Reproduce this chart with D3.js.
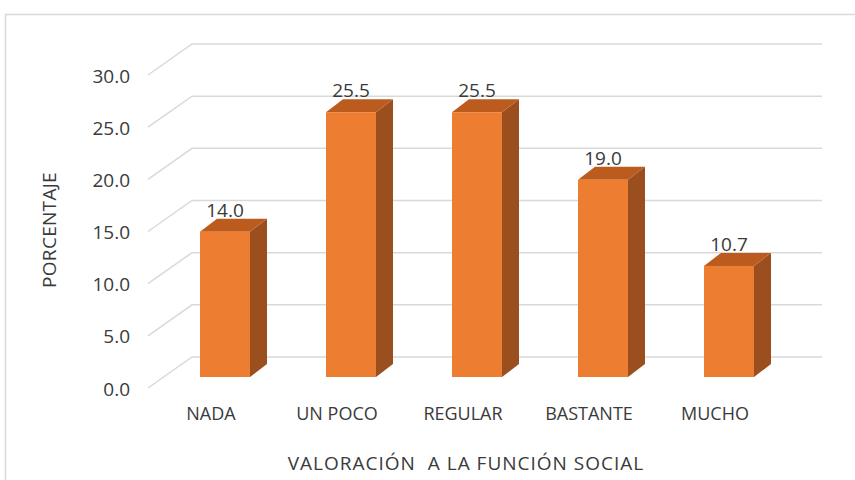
<!DOCTYPE html>
<html>
<head>
<meta charset="utf-8">
<script src="https://cdn.jsdelivr.net/npm/d3@7"></script>
<style>
    body { margin: 0; background: #fff; }
    text { font-family: 'Open Sans', sans-serif; fill: #3a3a3a; }
</style>
</head>
<body>
<div id="chart"></div>
<script>
const categories = ['NADA', 'UN POCO', 'REGULAR', 'BASTANTE', 'MUCHO'];
const values = [14.0, 25.5, 25.5, 19.0, 10.7];
const yTicks = [0, 5, 10, 15, 20, 25, 30];

const width = 855, height = 480;
// 3d offsets: back wall -> front edge of floor, and bar depth
const front = {dx: -44, dy: 31};
const depth = {dx: 17, dy: -13};
const barW = 50;

const svg = d3.select('#chart').append('svg')
    .attr('width', width)
    .attr('height', height);

// chart area border
svg.append('rect')
    .attr('x', 5.5).attr('y', 14.5)
    .attr('width', 900).attr('height', 500)
    .attr('fill', 'none')
    .attr('stroke', '#d9d9d9')
    .attr('stroke-width', 1.5);

const x = d3.scaleBand()
    .domain(categories)
    .range([192, 822]);

// back wall scale
const y = d3.scaleLinear()
    .domain([0, 30])
    .range([357, 44]);

// scale at the bars' front face
const yBar = d3.scaleLinear()
    .domain([0, 30])
    .range([377, 65.5]);

// gridlines: diagonal on the side wall + line along back wall
const grid = svg.append('g').attr('class', 'grid');
grid.selectAll('path')
    .data(yTicks)
    .enter()
    .append('path')
    .attr('d', d => `M${x.range()[0] + front.dx},${y(d) + front.dy}L${x.range()[0]},${y(d)}H${x.range()[1]}`)
    .attr('fill', 'none')
    .attr('stroke', '#d9d9d9')
    .attr('stroke-width', 1.5);

// tick labels
svg.append('g').selectAll('text')
    .data(yTicks)
    .enter()
    .append('text')
    .text(d => d.toFixed(1))
    .attr('x', 130)
    .attr('y', d => y(d) + front.dy + 1)
    .attr('dy', '0.35em')
    .attr('text-anchor', 'end')
    .attr('font-size', 19);

const data = categories.map((c, i) => ({cat: c, val: values[i]}));
const left = d => x(d.cat) + x.bandwidth() / 2 - 55;
const right = d => left(d) + barW;

const bars = svg.append('g').selectAll('g')
    .data(data)
    .enter()
    .append('g');

// side face
bars.append('path')
    .attr('d', d => {
        const t = yBar(d.val), b = yBar(0), r = right(d);
        return `M${r},${t}L${r + depth.dx},${t + depth.dy}L${r + depth.dx},${b + depth.dy}L${r},${b}Z`;
    })
    .attr('fill', '#9c4f1e');

// top face
bars.append('path')
    .attr('d', d => {
        const t = yBar(d.val), l = left(d), r = right(d);
        return `M${l},${t}L${l + depth.dx},${t + depth.dy}L${r + depth.dx},${t + depth.dy}L${r},${t}Z`;
    })
    .attr('fill', '#bb5b1d');

// front face
bars.append('rect')
    .attr('x', left)
    .attr('y', d => yBar(d.val))
    .attr('width', barW)
    .attr('height', d => yBar(0) - yBar(d.val))
    .attr('fill', '#ed7d31');

// data labels
bars.append('text')
    .text(d => d.val.toFixed(1))
    .attr('x', d => left(d) + barW / 2)
    .attr('y', d => yBar(d.val) - 15)
    .attr('text-anchor', 'middle')
    .attr('font-size', 19);

// category labels
svg.append('g').selectAll('text')
    .data(categories)
    .enter()
    .append('text')
    .text(d => d)
    .attr('x', d => x(d) + x.bandwidth() / 2 + front.dx)
    .attr('y', 420)
    .attr('text-anchor', 'middle')
    .attr('font-size', 18);

// axis titles
svg.append('text')
    .text('VALORACIÓN  A LA FUNCIÓN SOCIAL')
    .attr('x', 466)
    .attr('y', 470)
    .attr('text-anchor', 'middle')
    .attr('font-size', 19)
    .attr('letter-spacing', 1)
    .style('white-space', 'pre');

svg.append('text')
    .text('PORCENTAJE')
    .attr('transform', 'translate(56,230) rotate(-90)')
    .attr('text-anchor', 'middle')
    .attr('font-size', 19)
    .attr('letter-spacing', 0.3);
</script>
</body>
</html>
